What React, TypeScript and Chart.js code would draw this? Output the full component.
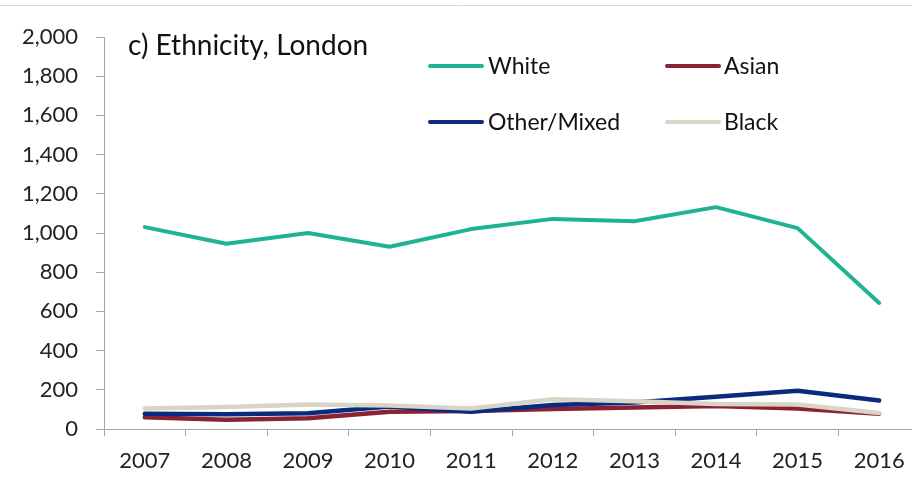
import React, { useEffect, useRef } from "react";
import { Chart, registerables } from "chart.js";

Chart.register(...registerables);

const years = ["2007", "2008", "2009", "2010", "2011", "2012", "2013", "2014", "2015", "2016"];
const white = [1030, 945, 1000, 930, 1020, 1072, 1060, 1132, 1025, 643];
const asian = [60, 47, 55, 88, 92, 102, 110, 117, 105, 78];
const otherMixed = [78, 75, 80, 115, 88, 122, 135, 165, 195, 145];
const black = [105, 112, 125, 120, 105, 152, 142, 128, 125, 82];

const seriesNames = ["White", "Asian", "Other/Mixed", "Black"];
const seriesColors = ["#1DB393", "#8A2232", "#0A2A7E", "#D8D5C7"];
const chartTitle = "c) Ethnicity, London";

const FONT = "Lato, 'Open Sans', sans-serif";

const overlayPlugin = {
  id: "overlay",
  beforeDraw(chart: any) {
    const ctx = chart.ctx;
    ctx.save();
    ctx.strokeStyle = "#d9d9d9";
    ctx.lineWidth = 1;
    ctx.beginPath();
    ctx.moveTo(0, 5.5);
    ctx.lineTo(chart.width, 5.5);
    ctx.stroke();
    ctx.restore();
  },
  afterDraw(chart: any) {
    const ctx = chart.ctx;
    ctx.save();
    ctx.fillStyle = "#111";
    ctx.textBaseline = "alphabetic";
    ctx.textAlign = "left";
    ctx.font = `28px ${FONT}`;
    ctx.fillText(chartTitle, 128, 55);

    const pos = [
      { lx: 430, ly: 66, tx: 488, ty: 74 },
      { lx: 667, ly: 66, tx: 724, ty: 74 },
      { lx: 430, ly: 122, tx: 488, ty: 130 },
      { lx: 667, ly: 122, tx: 724, ty: 130 },
    ];
    ctx.font = `23px ${FONT}`;
    seriesNames.forEach((name, i) => {
      const p = pos[i];
      ctx.strokeStyle = seriesColors[i];
      ctx.lineWidth = 4;
      ctx.lineCap = "round";
      ctx.beginPath();
      ctx.moveTo(p.lx, p.ly);
      ctx.lineTo(p.lx + 52, p.ly);
      ctx.stroke();
      ctx.fillStyle = "#111";
      ctx.fillText(name, p.tx, p.ty);
    });
    ctx.restore();
  },
};

export default function App() {
  const ref = useRef<HTMLCanvasElement | null>(null);

  useEffect(() => {
    if (!ref.current) return;
    const seriesData = [white, asian, otherMixed, black];
    const orders = [3, 2, 1, 0];
    const widths = [4, 4.5, 4.5, 4.5];
    const chart = new Chart(ref.current, {
      type: "line",
      data: {
        labels: years,
        datasets: seriesNames.map((name, i) => ({
          label: name,
          data: seriesData[i],
          borderColor: seriesColors[i],
          backgroundColor: seriesColors[i],
          borderWidth: widths[i],
          pointRadius: 0,
          tension: 0,
          fill: false,
          order: orders[i],
          borderCapStyle: "round" as const,
          borderJoinStyle: "round" as const,
        })),
      },
      options: {
        responsive: false,
        animation: false,
        layout: { padding: { left: 0, top: 37, right: 5, bottom: 0 } },
        plugins: {
          legend: { display: false },
          title: { display: false },
          tooltip: { enabled: false },
        },
        scales: {
          x: {
            type: "category",
            offset: true,
            grid: {
              offset: true,
              drawOnChartArea: false,
              tickLength: 7,
              color: "#a6a6a6",
            },
            border: { color: "#a6a6a6" },
            ticks: {
              font: { family: FONT, size: 22 },
              color: "#222",
              padding: 12,
              maxRotation: 0,
              autoSkip: false,
            },
            afterFit: (scale: any) => {
              scale.height = 67;
            },
          },
          y: {
            min: 0,
            max: 2000,
            grid: {
              drawOnChartArea: false,
              tickLength: 8,
              color: "#a6a6a6",
            },
            border: { color: "#a6a6a6" },
            ticks: {
              stepSize: 200,
              font: { family: FONT, size: 22 },
              color: "#222",
              padding: 18,
              callback: (v: any) => Number(v).toLocaleString("en-US"),
            },
            afterFit: (scale: any) => {
              scale.width = 104;
            },
          },
        },
      },
      plugins: [overlayPlugin],
    });
    return () => chart.destroy();
  }, []);

  return (
    <div
      style={{
        position: "absolute",
        left: 0,
        top: 0,
        width: 912,
        height: 496,
        overflow: "hidden",
        background: "#fff",
      }}
    >
      <canvas ref={ref} width={925} height={496} style={{ display: "block" }} />
    </div>
  );
}
